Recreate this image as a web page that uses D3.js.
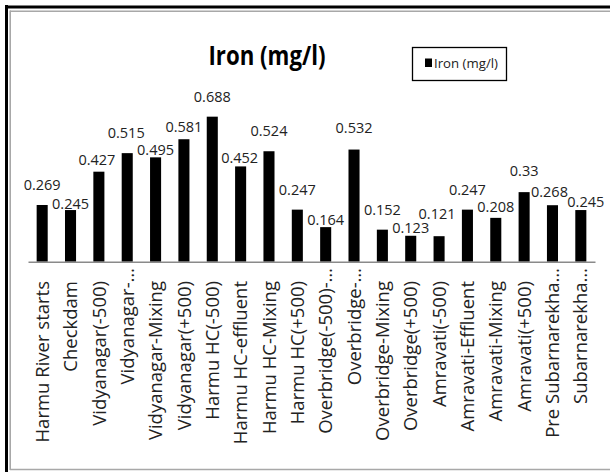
<!DOCTYPE html>
<html>
<head>
<meta charset="utf-8">
<script src="https://cdn.jsdelivr.net/npm/d3@7/dist/d3.min.js"></script>
<style>
  html, body { margin: 0; padding: 0; background: #fff; }
  svg { display: block; }
  text { font-family: "Open Sans", "Noto Sans", sans-serif; }
</style>
</head>
<body>
<svg id="chart" width="610" height="472"></svg>
<script>
// Sampling sites along the river
const categories = [
  "Harmu River starts", "Checkdam", "Vidyanagar(-500)", "Vidyanagar-…",
  "Vidyanagar-Mixing", "Vidyanagar(+500)", "Harmu HC(-500)", "Harmu HC-effluent",
  "Harmu HC-Mixing", "Harmu HC(+500)", "Overbridge(-500)-…", "Overbridge-…",
  "Overbridge-Mixing", "Overbridge(+500)", "Amravati(-500)", "Amravati-Effluent",
  "Amravati-Mixing", "Amravati(+500)", "Pre Subarnarekha…", "Subarnarekha…"
];

// Iron concentration (mg/l) at each site
const ironValues = [
  0.269, 0.245, 0.427, 0.515, 0.495, 0.581, 0.688, 0.452, 0.524, 0.247,
  0.164, 0.532, 0.152, 0.123, 0.121, 0.247, 0.208, 0.33, 0.268, 0.245
];

const seriesName = "Iron (mg/l)";
const titleText = "Iron (mg/l)";

// Value label placement: lift (px) above the bar and sideways nudge (px)
const labelLift = [15, 1, 7, 15, 2.5, 7, 15, 3.5, 15, 15, 2, 17, 15, 3, 17, 15, 6, 16, 8, 3];
const labelNudge = [0, 0, -2, -1, 0, 0, 0, -1, 0, 0, 0, 0, 0, 0, -2, 0, 0, 0, -3, 5];

const svg = d3.select("#chart");
const W = 610, H = 472;

svg.append("rect").attr("width", W).attr("height", H).attr("fill", "#fff");

// Frame: heavy black outer edge with a grey inner rule
const frame = svg.append("g");
frame.append("line").attr("x1", 6.5).attr("x2", 6.5).attr("y1", 5).attr("y2", H)
  .attr("stroke", "#000").attr("stroke-width", 3);
frame.append("line").attr("x1", 5).attr("x2", W).attr("y1", 7).attr("y2", 7)
  .attr("stroke", "#000").attr("stroke-width", 3);
frame.append("line").attr("x1", 10.2).attr("x2", 10.2).attr("y1", 10.5).attr("y2", 470)
  .attr("stroke", "#a8a8a8").attr("stroke-width", 1.6);
frame.append("line").attr("x1", 10).attr("x2", W).attr("y1", 11.3).attr("y2", 11.3)
  .attr("stroke", "#a8a8a8").attr("stroke-width", 1.6);
frame.append("line").attr("x1", 10).attr("x2", W).attr("y1", 469.5).attr("y2", 469.5)
  .attr("stroke", "#a8a8a8").attr("stroke-width", 1.6);

// Scales
const x = d3.scaleBand().domain(categories).range([28, 595]).paddingInner(0.61).paddingOuter(0.305);
const y = d3.scaleLinear().domain([0, 0.8]).range([261.7, 261.7 - 0.8 * 210.8]);

// Bars
svg.append("g").selectAll("rect")
  .data(ironValues)
  .join("rect")
  .attr("x", (d, i) => x(categories[i]))
  .attr("width", x.bandwidth())
  .attr("y", d => y(d))
  .attr("height", d => y(0) - y(d))
  .attr("fill", "#000");

// Category axis
const xAxis = svg.append("g").attr("transform", `translate(0,${y(0)})`)
  .call(d3.axisBottom(x).tickSize(0).tickPadding(0));
xAxis.select(".domain").attr("stroke", "#8a8a8a").attr("stroke-width", 1.5);
xAxis.selectAll(".tick text").remove();

// Rotated category labels
svg.append("g").selectAll("text")
  .data(categories)
  .join("text")
  .attr("transform", d => {
    const cx = x(d) + x.bandwidth() / 2;
    const top = d.endsWith("…") ? 268 : 281;
    return `translate(${cx},${top}) rotate(-90)`;
  })
  .attr("dy", "0.36em")
  .attr("text-anchor", "end")
  .attr("font-size", 18.5)
  .attr("fill", "#222")
  .text(d => d);

// Value labels
svg.append("g").selectAll("text")
  .data(ironValues)
  .join("text")
  .attr("x", (d, i) => x(categories[i]) + x.bandwidth() / 2 + labelNudge[i])
  .attr("y", (d, i) => y(d) - labelLift[i])
  .attr("text-anchor", "middle")
  .attr("font-size", 14.5)
  .attr("fill", "#222")
  .text(d => String(d));

// Title
svg.append("text")
  .attr("x", 267).attr("y", 65)
  .attr("text-anchor", "middle")
  .attr("font-size", 26)
  .attr("font-weight", "bold")
  .attr("fill", "#000")
  .attr("textLength", 117)
  .attr("lengthAdjust", "spacingAndGlyphs")
  .text(titleText);

// Legend
const legend = svg.append("g");
legend.append("rect").attr("x", 412.5).attr("y", 47.5).attr("width", 94).attr("height", 33)
  .attr("fill", "#fff").attr("stroke", "#000").attr("stroke-width", 1.3);
legend.append("rect").attr("x", 425).attr("y", 58.5).attr("width", 7).attr("height", 8.5)
  .attr("fill", "#000");
legend.append("text").attr("x", 434).attr("y", 67.5)
  .attr("font-size", 13).attr("fill", "#222")
  .attr("textLength", 64).attr("lengthAdjust", "spacingAndGlyphs")
  .text(seriesName);
</script>
</body>
</html>
